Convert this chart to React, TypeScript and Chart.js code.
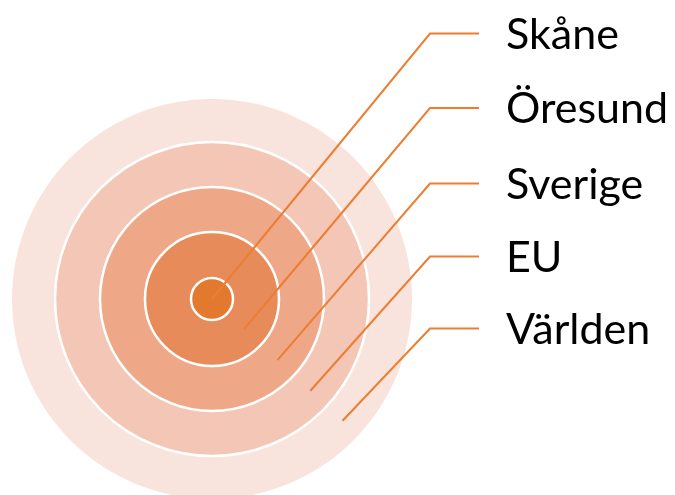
import React, { useEffect, useRef } from "react";
import { Chart, registerables } from "chart.js";

Chart.register(...registerables);

// Target diagram data (units: diagram units, centre of target = 0,0)
const labels = ["Skåne", "Öresund", "Sverige", "EU", "Världen"];
const ringRadius = [21, 67, 112, 157, 200]; // outer radius of each ring, inner -> outer
const ringColors = ["#E2792F", "#E78B5B", "#EEA887", "#F3C6B5", "#F8E4DD"];
const labelLevel = [265.5, 191, 115.5, 42.5, -29.5]; // y-level of each label leader
const elbowX = 218;
const leaderEndX = 267;
const leaderAngleDeg = -43;

const lineColor = "#ED7D31";

export default function App() {
  const ref = useRef<HTMLCanvasElement | null>(null);

  useEffect(() => {
    if (!ref.current) return;
    const rad = (leaderAngleDeg * Math.PI) / 180;
    const order = [4, 3, 2, 1, 0];

    const circleData = order.map((i) => ({ x: 0, y: 0, r: ringRadius[i] }));
    const circleColors = order.map((i) => ringColors[i]);
    const circleBorders = order.map((i) => (i === 4 ? 0 : 2.5));

    const leaderSets = labels.map((lab, i) => {
      const mid = i === 0 ? 0 : (ringRadius[i - 1] + ringRadius[i]) / 2;
      return {
        type: "line" as const,
        label: lab,
        data: [
          { x: leaderEndX, y: labelLevel[i] },
          { x: elbowX, y: labelLevel[i] },
          { x: mid * Math.cos(rad), y: mid * Math.sin(rad) },
        ],
        borderColor: lineColor,
        borderWidth: 2,
        pointRadius: 0,
        tension: 0,
        fill: false,
        order: 1,
      };
    });

    const textPlugin = {
      id: "labelText",
      afterDatasetsDraw(chart: any) {
        const { ctx, scales } = chart;
        ctx.save();
        ctx.fillStyle = "#000000";
        ctx.font = "43px Lato";
        ctx.textAlign = "left";
        ctx.textBaseline = "alphabetic";
        labels.forEach((lab, i) => {
          const px = scales.x.getPixelForValue(leaderEndX) + 27;
          const py = scales.y.getPixelForValue(labelLevel[i]) + 15;
          ctx.fillText(lab, px, py);
        });
        ctx.restore();
      },
    };

    const chart = new Chart(ref.current, {
      type: "bubble",
      data: {
        datasets: [
          {
            type: "bubble" as const,
            label: "rings",
            data: circleData,
            backgroundColor: circleColors,
            borderColor: "#FFFFFF",
            borderWidth: circleBorders,
            hoverRadius: 0,
            order: 2,
            clip: false as any,
          } as any,
          ...leaderSets,
        ],
      },
      options: {
        responsive: false,
        animation: false,
        events: [],
        layout: { padding: 0, autoPadding: false },
        plugins: {
          legend: { display: false },
          tooltip: { enabled: false },
        },
        scales: {
          x: { type: "linear", min: -212, max: 463, display: false },
          y: { type: "linear", min: -196, max: 299, display: false },
        },
      } as any,
      plugins: [textPlugin],
    });
    return () => chart.destroy();
  }, []);

  return (
    <div style={{ position: "absolute", left: 0, top: 0, width: 675, height: 495, background: "#fff" }}>
      <canvas ref={ref} width={675} height={495} style={{ display: "block" }} />
    </div>
  );
}
